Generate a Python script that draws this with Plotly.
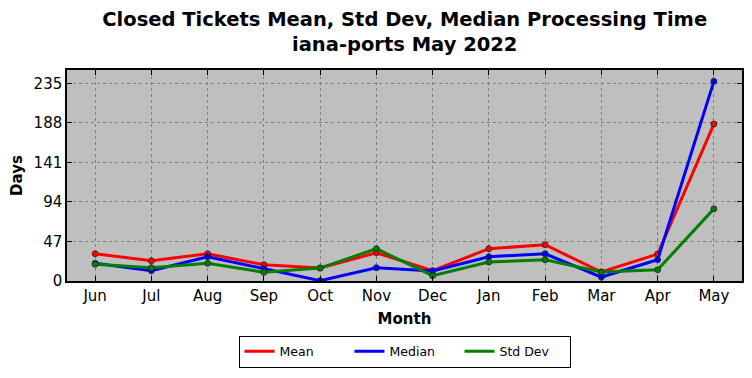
import plotly.graph_objects as go

months = ["Jun", "Jul", "Aug", "Sep", "Oct", "Nov", "Dec", "Jan", "Feb", "Mar", "Apr", "May"]
mean_days = [32.4, 24.0, 32.4, 19.4, 15.4, 33.6, 12.3, 38.4, 43.1, 10.7, 32.0, 186.7]
median_days = [21.0, 12.3, 28.9, 14.6, 0.4, 15.8, 11.9, 28.9, 32.4, 4.7, 25.3, 237.5]
std_days = [19.8, 15.8, 21.0, 10.3, 15.4, 38.4, 6.3, 22.5, 25.3, 10.7, 13.4, 85.8]
y_ticks = [0, 47, 94, 141, 188, 235]

series = [("Mean", mean_days, "#ff0000"), ("Median", median_days, "#0000ff"), ("Std Dev", std_days, "#008000")]

fig = go.Figure()
x_idx = list(range(len(months)))
for name, vals, col in series:
    fig.add_trace(go.Scatter(x=x_idx, y=vals, mode="lines+markers", name=name,
                             line=dict(color=col, width=3),
                             marker=dict(color=col, size=6, line=dict(color="#222222", width=0.8)),
                             showlegend=False))
for name, vals, col in series:
    fig.add_trace(go.Scatter(x=[None], y=[None], mode="lines", name=name,
                             line=dict(color=col, width=3), showlegend=True))

# page body has an 8px default margin, so the figure is sized to fit the 752x378 window
font_family = "DejaVu Sans"
fig.update_layout(
    width=736, height=362,
    margin=dict(l=59, r=2, t=62, b=89, autoexpand=False),
    paper_bgcolor="white", plot_bgcolor="#bfbfbf",
    font=dict(family=font_family, color="black"),
    title=dict(text="<b>Closed Tickets Mean, Std Dev, Median Processing Time<br>iana-ports May 2022</b>",
               x=0.539, xanchor="center", yref="container", y=0.95, yanchor="top", font=dict(size=19.5)),
    legend=dict(orientation="h", x=0.5, xanchor="center", yref="container", y=0.095, yanchor="top",
                bordercolor="black", borderwidth=1, font=dict(size=12.5), entrywidth=65,
                bgcolor="white", tracegroupgap=0),
    showlegend=True,
)
fig.update_xaxes(range=[-0.5, 11.5], tickmode="array", tickvals=x_idx, ticktext=months, automargin=False,
                 tickfont=dict(size=15), showgrid=True, gridcolor="#7f7f7f", griddash="dot", gridwidth=1,
                 showline=True, linecolor="black", linewidth=1.5, mirror="ticks",
                 ticks="inside", ticklen=5, tickcolor="black", zeroline=False,
                 title=dict(text="<b>Month</b>", font=dict(size=15), standoff=10))
fig.update_yaxes(range=[0, 251], tickmode="array", tickvals=y_ticks, automargin=False,
                 tickfont=dict(size=15), showgrid=True, gridcolor="#7f7f7f", griddash="dot", gridwidth=1,
                 showline=True, linecolor="black", linewidth=1.5, mirror="ticks",
                 ticks="inside", ticklen=5, tickcolor="black", zeroline=False,
                 title=dict(text="<b>Days</b>", font=dict(size=15), standoff=8))

fig.write_html("out.html")
